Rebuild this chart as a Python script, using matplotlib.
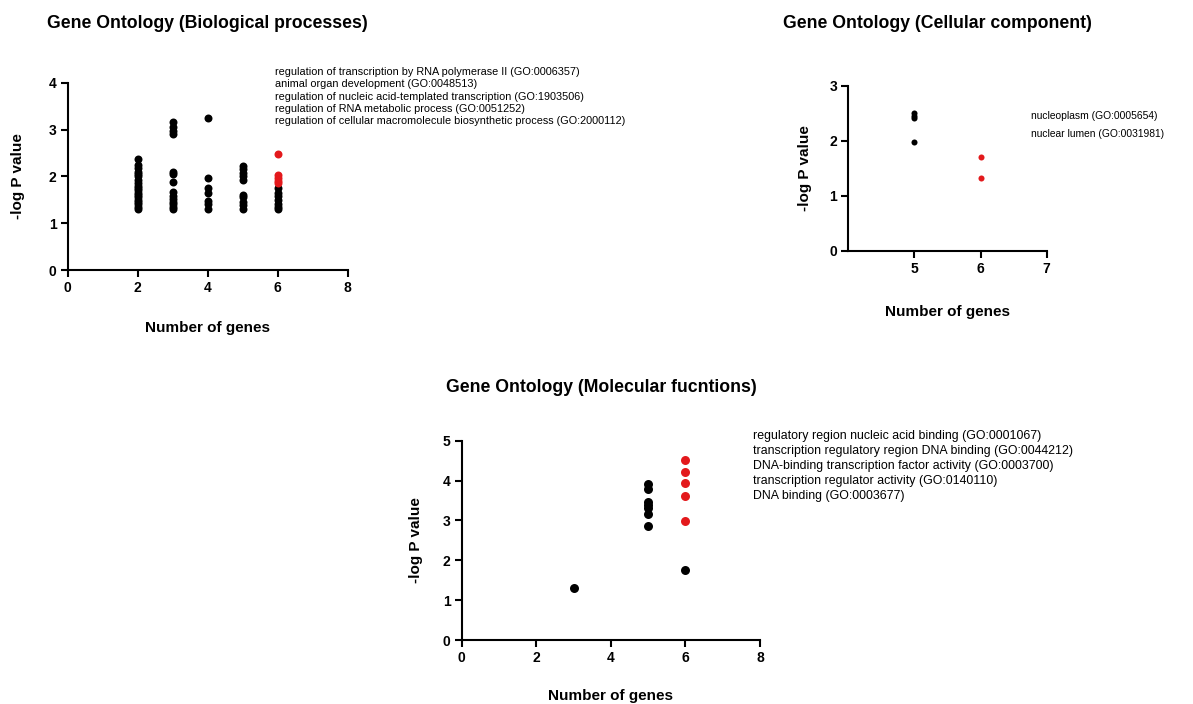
import matplotlib
matplotlib.use("Agg")
import matplotlib.pyplot as plt

plt.rcParams['font.family'] = ['Liberation Sans', 'DejaVu Sans']

# ---- Biological processes ----
bp_black_x = [2]*19 + [3]*14 + [4]*7 + [5]*10 + [6]*7
bp_black_y = [2.36, 2.25, 2.18, 2.10, 2.05, 2.00, 1.92, 1.85, 1.80, 1.75, 1.70, 1.65, 1.60,
              1.55, 1.50, 1.45, 1.40, 1.35, 1.30,
              3.17, 3.05, 2.96, 2.90, 2.10, 2.05, 1.87, 1.67, 1.58, 1.52, 1.45, 1.40, 1.35, 1.30,
              3.24, 1.96, 1.75, 1.65, 1.48, 1.40, 1.30,
              2.22, 2.16, 2.08, 2.00, 1.92, 1.60, 1.55, 1.45, 1.38, 1.30,
              1.75, 1.65, 1.58, 1.50, 1.42, 1.35, 1.30]
bp_red_x = [6, 6, 6, 6, 6]
bp_red_y = [2.47, 2.03, 1.97, 1.90, 1.85]
bp_terms = ["regulation of transcription by RNA polymerase II (GO:0006357)",
            "animal organ development (GO:0048513)",
            "regulation of nucleic acid-templated transcription (GO:1903506)",
            "regulation of RNA metabolic process (GO:0051252)",
            "regulation of cellular macromolecule biosynthetic process (GO:2000112)"]

# ---- Cellular component ----
cc_black_x = [5, 5, 5, 5]
cc_black_y = [2.50, 2.45, 2.41, 1.97]
cc_red_x = [6, 6]
cc_red_y = [1.71, 1.33]
cc_terms = ["nucleoplasm (GO:0005654)", "nuclear lumen (GO:0031981)"]

# ---- Molecular functions ----
mf_black_x = [3, 5, 5, 5, 5, 5, 5, 5, 6]
mf_black_y = [1.31, 3.91, 3.80, 3.47, 3.38, 3.30, 3.16, 2.87, 1.75]
mf_red_x = [6, 6, 6, 6, 6]
mf_red_y = [4.51, 4.22, 3.95, 3.62, 2.98]
mf_terms = ["regulatory region nucleic acid binding (GO:0001067)",
            "transcription regulatory region DNA binding (GO:0044212)",
            "DNA-binding transcription factor activity (GO:0003700)",
            "transcription regulator activity (GO:0140110)",
            "DNA binding (GO:0003677)"]

RED = '#e3191c'
W, H = 1193, 704
fig = plt.figure(figsize=(W/100, H/100), dpi=100)


def frac(l, r, b, t):
    return [l/W, 1-b/H, (r-l)/W, (b-t)/H]


def style(ax, xlim, ylim, xticks, yticks, xl_y, yl_x):
    ax.set_xlim(*xlim)
    ax.set_ylim(*ylim)
    ax.set_xticks(xticks)
    ax.set_yticks(yticks)
    for s in ['top', 'right']:
        ax.spines[s].set_visible(False)
    for s in ['left', 'bottom']:
        ax.spines[s].set_linewidth(1.5)
    ax.tick_params(width=1.5, length=5, labelsize=10, pad=3)
    for lab in ax.get_xticklabels() + ax.get_yticklabels():
        lab.set_fontweight('bold')
    ax.set_xlabel('Number of genes', fontsize=11, fontweight='bold')
    ax.set_ylabel('-log P value', fontsize=11, fontweight='bold')
    ax.xaxis.set_label_coords(0.5, xl_y)
    ax.yaxis.set_label_coords(yl_x, 0.5)
    ax.patch.set_alpha(0)


# BP
ax1 = fig.add_axes(frac(67.7, 347.7, 270, 82.7))
ax1.scatter(bp_black_x, bp_black_y, s=33, color='black', linewidths=0, clip_on=False)
ax1.scatter(bp_red_x, bp_red_y, s=33, color=RED, linewidths=0, clip_on=False)
style(ax1, (0, 8), (0, 4), [0, 2, 4, 6, 8], [0, 1, 2, 3, 4], -0.273, -0.153)
fig.text(47/W, 1-23/H, 'Gene Ontology (Biological processes)', fontsize=12.7,
         fontweight='bold', va='center', ha='left')
for i, t in enumerate(bp_terms):
    fig.text(275/W, 1-(72+12.3*i)/H, t, fontsize=7.8, va='center', ha='left')

# CC
ax2 = fig.add_axes(frac(848.3, 1046.7, 251, 85.7))
ax2.scatter(cc_black_x, cc_black_y, s=19, color='black', linewidths=0, clip_on=False)
ax2.scatter(cc_red_x, cc_red_y, s=19, color=RED, linewidths=0, clip_on=False)
style(ax2, (4, 7), (0, 3), [5, 6, 7], [0, 1, 2, 3], -0.327, -0.183)
fig.text(783/W, 1-23/H, 'Gene Ontology (Cellular component)', fontsize=12.7,
         fontweight='bold', va='center', ha='left')
for i, t in enumerate(cc_terms):
    fig.text(1031/W, 1-(116+18*i)/H, t, fontsize=7.4, va='center', ha='left')

# MF
ax3 = fig.add_axes(frac(461.7, 760, 640, 440.7))
ax3.scatter(mf_black_x, mf_black_y, s=42, color='black', linewidths=0, clip_on=False)
ax3.scatter(mf_red_x, mf_red_y, s=42, color=RED, linewidths=0, clip_on=False)
style(ax3, (0, 8), (0, 5), [0, 2, 4, 6, 8], [0, 1, 2, 3, 4, 5], -0.247, -0.13)
fig.text(446/W, 1-388/H, 'Gene Ontology (Molecular fucntions)', fontsize=12.7,
         fontweight='bold', va='center', ha='left')
for i, t in enumerate(mf_terms):
    fig.text(753/W, 1-(436+15*i)/H, t, fontsize=8.9, va='center', ha='left')

fig.savefig('out.png', dpi=100)
